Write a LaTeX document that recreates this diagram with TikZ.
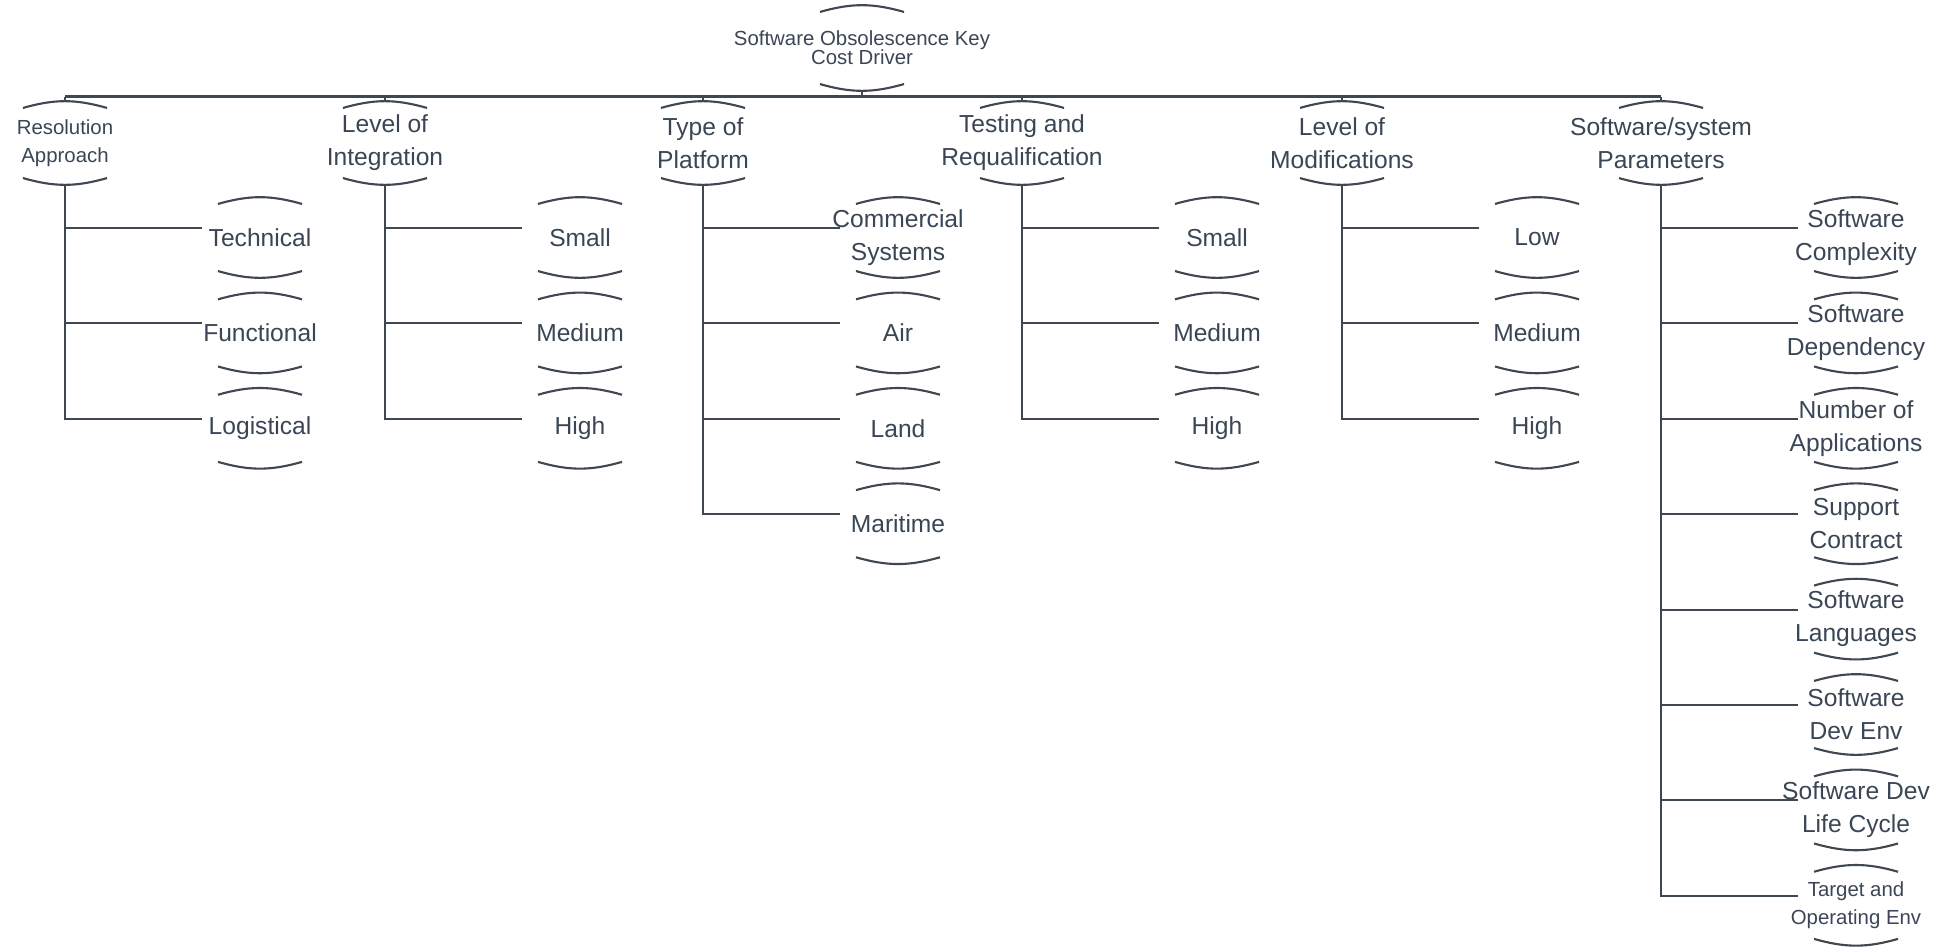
\documentclass[tikz,border=0pt]{standalone}
\usepackage{fontspec}
\setmainfont{Liberation Sans}
\usepackage{tikz}
\usepackage{color,xcolor}
\definecolor{ln}{HTML}{3F4750}
\definecolor{tx}{HTML}{3A4655}

\begin{document}
\begin{tikzpicture}[color=ln,line width=0.6pt]
          \tikzstyle{every node}=[color=tx,align=center,inner sep=0pt]
          \tikzstyle{big}=[font=\fontsize{7}{9.4}\selectfont]
          \tikzstyle{sml}=[font=\fontsize{5.8}{8}\selectfont]
          \tikzstyle{head}=[minimum width=0.84cm,minimum height=0.68cm]
          \tikzstyle{leaf}=[minimum width=0.84cm,minimum height=0.65cm]
          \useasboundingbox (0,0) rectangle (19.44,-9.46);
          % root
          \node[font=\fontsize{5.8}{5.5}\selectfont,minimum width=0.84cm,minimum height=0.70cm] (top) at (8.62,-0.48) {Software Obsolescence Key\\Cost Driver};
          % key drivers
          \node[sml,head] (ra) at (0.65,-1.43) {Resolution\\Approach};
          \node[big,head] (li) at (3.85,-1.43) {Level of\\Integration};
          \node[big,head] (tp) at (7.03,-1.43) {Type of\\Platform};
          \node[big,head] (tr) at (10.22,-1.43) {Testing and\\Requalification};
          \node[big,head] (lm) at (13.42,-1.43) {Level of\\Modifications};
          \node[big,head] (sp) at (16.61,-1.43) {Software/system\\Parameters};
          % resolution approach
          \node[big,leaf] (tech) at (2.60,-2.375) {Technical};
          \node[big,leaf] (func) at (2.60,-3.329) {Functional};
          \node[big,leaf] (logi) at (2.60,-4.283) {Logistical};
          % level of integration
          \node[big,leaf] (lis) at (5.80,-2.375) {Small};
          \node[big,leaf] (lim) at (5.80,-3.329) {Medium};
          \node[big,leaf] (lih) at (5.80,-4.283) {High};
          % type of platform
          \node[big,leaf] (com) at (8.98,-2.375) {Commercial\\Systems};
          \node[big,leaf] (air) at (8.98,-3.329) {Air};
          \node[big,leaf] (land) at (8.98,-4.283) {Land};
          \node[big,leaf] (mar) at (8.98,-5.237) {Maritime};
          % testing and requalification
          \node[big,leaf] (trs) at (12.17,-2.375) {Small};
          \node[big,leaf] (trm) at (12.17,-3.329) {Medium};
          \node[big,leaf] (trh) at (12.17,-4.283) {High};
          % level of modifications
          \node[big,leaf] (lml) at (15.37,-2.375) {Low};
          \node[big,leaf] (lmm) at (15.37,-3.329) {Medium};
          \node[big,leaf] (lmh) at (15.37,-4.283) {High};
          % software/system parameters
          \node[big,leaf] (cpx) at (18.56,-2.375) {Software\\Complexity};
          \node[big,leaf] (dep) at (18.56,-3.329) {Software\\Dependency};
          \node[big,leaf] (app) at (18.56,-4.283) {Number of\\Applications};
          \node[big,leaf] (sup) at (18.56,-5.237) {Support\\Contract};
          \node[big,leaf] (lang) at (18.56,-6.191) {Software\\Languages};
          \node[big,leaf] (env) at (18.56,-7.145) {Software\\Dev Env};
          \node[big,leaf] (life) at (18.56,-8.099) {Software Dev\\Life Cycle};
          \node[sml,leaf] (tgt) at (18.56,-9.053) {Target and\\Operating Env};
          % arcs above and below every box
          \foreach \n in {top,ra,li,tp,tr,lm,sp,tech,func,logi,lis,lim,lih,com,air,land,mar,trs,trm,trh,lml,lmm,lmh,cpx,dep,app,sup,lang,env,life,tgt}{
            \draw ([xshift=-0.42cm]\n.north) to[bend left=16] ([xshift=0.42cm]\n.north);
            \draw ([xshift=-0.42cm]\n.south) to[bend right=16] ([xshift=0.42cm]\n.south);
          }
          % bus
          \coordinate (bus) at (0,-0.965);
          \draw ([yshift=-0.068cm]top.south) -- (top.south |- bus);
          \draw (ra.north |- bus) -- (sp.north |- bus);
          \foreach \n in {ra,li,tp,tr,lm,sp} \draw ([yshift=0.068cm]\n.north) -- (\n.north |- bus);
          % branches
          \foreach \p/\c in {ra/tech,ra/func,ra/logi,li/lis,li/lim,li/lih,tp/com,tp/air,tp/land,tp/mar,tr/trs,tr/trm,tr/trh,lm/lml,lm/lmm,lm/lmh,sp/cpx,sp/dep,sp/app,sp/sup,sp/lang,sp/env,sp/life,sp/tgt}
            \draw ([yshift=-0.068cm]\p.south) |- ([shift={(-0.58,0.095)}]\c.center);
\end{tikzpicture}
\end{document}
